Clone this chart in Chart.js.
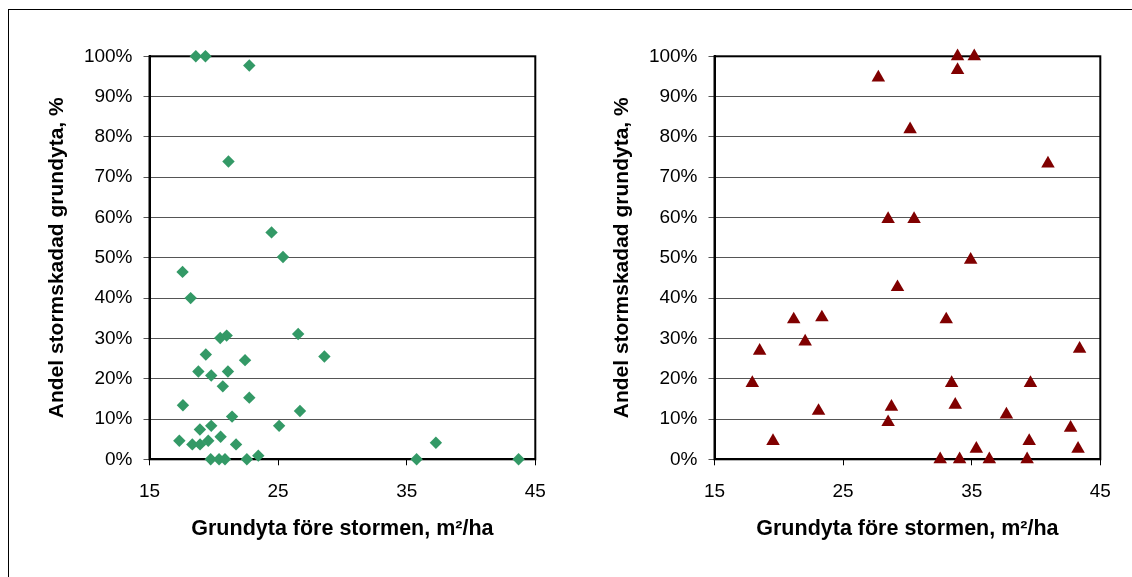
<!DOCTYPE html>
<html>
<head>
<meta charset="utf-8">
<script src="https://cdn.jsdelivr.net/npm/chart.js@4.4.0/dist/chart.umd.min.js"></script>
<style>
body { margin: 0; background: #fff; width: 1132px; height: 577px; overflow: hidden; position: relative; }
#frame { position: absolute; left: 8px; top: 9px; width: 1200px; height: 600px; border-left: 1.5px solid #000; border-top: 1.5px solid #000; }
.box { position: absolute; top: 0; width: 566px; height: 577px; }
</style>
</head>
<body>
<div id="frame"></div>
<div class="box" style="left:0px"><canvas id="left-chart" width="566" height="577"></canvas></div>
<div class="box" style="left:565px"><canvas id="right-chart" width="566" height="577"></canvas></div>
<script>
// axis ticks
var xTicks = [15, 25, 35, 45];
var yTicks = [0, 10, 20, 30, 40, 50, 60, 70, 80, 90, 100];

// left chart (green diamonds): basal area before storm, m2/ha / share damaged, %
var leftX = [18.6, 19.35, 22.76, 21.14, 24.49, 25.38, 17.57, 18.2, 20.5, 21.0,
             26.56, 19.38, 28.6, 22.43, 18.8, 19.8, 21.1, 20.7, 22.76, 17.6,
             26.7, 21.42, 18.92, 19.8, 25.08, 17.32, 18.33, 18.93, 19.57, 20.53,
             21.73, 19.76, 20.41, 20.87, 22.57, 23.46, 35.77, 37.27, 43.7];
var leftY = [100, 100, 97.7, 73.9, 56.3, 50.2, 46.5, 40.0, 30.1, 30.7,
             31.1, 26.0, 25.5, 24.6, 21.8, 20.8, 21.8, 18.1, 15.3, 13.4,
             12.0, 10.6, 7.4, 8.3, 8.3, 4.6, 3.7, 3.7, 4.6, 5.6,
             3.7, 0, 0, 0, 0, 0.9, 0, 4.1, 0];

// right chart (red triangles)
var rightX = [33.9, 35.2, 33.9, 27.74, 30.21, 40.93, 28.5, 30.52, 34.92, 29.23,
              21.16, 23.35, 33.02, 18.51, 22.05, 43.39, 17.94, 33.44, 39.57, 23.09,
              28.76, 33.72, 37.7, 28.5, 42.69, 19.55, 39.47, 35.36, 43.27, 32.55,
              34.06, 36.37, 39.31];
var rightY = [100, 100, 96.6, 94.7, 81.9, 73.4, 59.6, 59.6, 49.5, 42.7,
              34.7, 35.2, 34.7, 26.9, 29.2, 27.4, 18.9, 18.9, 18.9, 12.0,
              13.0, 13.5, 11.1, 9.2, 7.8, 4.5, 4.5, 2.6, 2.6, 0,
              0, 0, 0];

var xTitle = 'Grundyta före stormen, m²/ha';
var yTitle = 'Andel stormskadad grundyta, %';
var fontFamily = 'Arial, "Liberation Sans", sans-serif';

function toPoints(xs, ys) {
    var pts = [];
    for (var i = 0; i < xs.length; i++) pts.push({ x: xs[i], y: ys[i] });
    return pts;
}

// black box around the plot area (under the markers)
var plotFrame = {
    id: 'plotFrame',
    beforeDatasetsDraw: function(chart) {
        var a = chart.chartArea, ctx = chart.ctx;
        ctx.save();
        ctx.strokeStyle = '#000';
        ctx.lineWidth = 2;
        ctx.strokeRect(a.left, a.top, a.right - a.left, a.bottom - a.top);
        ctx.restore();
    }
};

function makeChart(id, xs, ys, color, style, radius) {
    return new Chart(document.getElementById(id), {
        type: 'scatter',
        data: {
            datasets: [{
                data: toPoints(xs, ys),
                pointStyle: style,
                pointRadius: radius,
                pointHoverRadius: radius,
                pointBackgroundColor: color,
                pointBorderColor: color,
                pointBorderWidth: 0,
                clip: false
            }]
        },
        options: {
            responsive: false,
            animation: false,
            events: [],
            layout: { padding: { top: 56.3, left: 40.9, right: 30.7, bottom: 30.7 } },
            plugins: { legend: { display: false }, tooltip: { enabled: false } },
            scales: {
                x: {
                    type: 'linear',
                    min: xTicks[0],
                    max: xTicks[xTicks.length - 1],
                    afterBuildTicks: function(s) { s.ticks = xTicks.map(function(v) { return { value: v }; }); },
                    afterFit: function(s) { s.height = 87; },
                    ticks: { color: '#000', font: { family: fontFamily, size: 19 }, padding: 15, maxRotation: 0 },
                    grid: { drawOnChartArea: false, color: '#000', tickLength: 6 },
                    border: { color: '#000', width: 2 },
                    title: { display: true, text: xTitle, color: '#000',
                             font: { family: fontFamily, size: 21.5, weight: 'bold' }, padding: { top: 4, bottom: 4 } }
                },
                y: {
                    min: yTicks[0],
                    max: yTicks[yTicks.length - 1],
                    afterBuildTicks: function(s) { s.ticks = yTicks.map(function(v) { return { value: v }; }); },
                    afterFit: function(s) { s.width = 108.6; },
                    ticks: { color: '#000', font: { family: fontFamily, size: 19 }, padding: 11,
                             callback: function(v) { return v + '%'; } },
                    grid: { color: '#555', lineWidth: 1, tickLength: 6 },
                    border: { color: '#000', width: 2 },
                    title: { display: true, text: yTitle, color: '#000',
                             font: { family: fontFamily, size: 21, weight: 'bold' }, padding: { top: 4, bottom: 4 } }
                }
            }
        },
        plugins: [plotFrame]
    });
}

makeChart('left-chart', leftX, leftY, '#339966', 'rectRot', 6.2);
makeChart('right-chart', rightX, rightY, '#800000', 'triangle', 7.8);
</script>
</body>
</html>
